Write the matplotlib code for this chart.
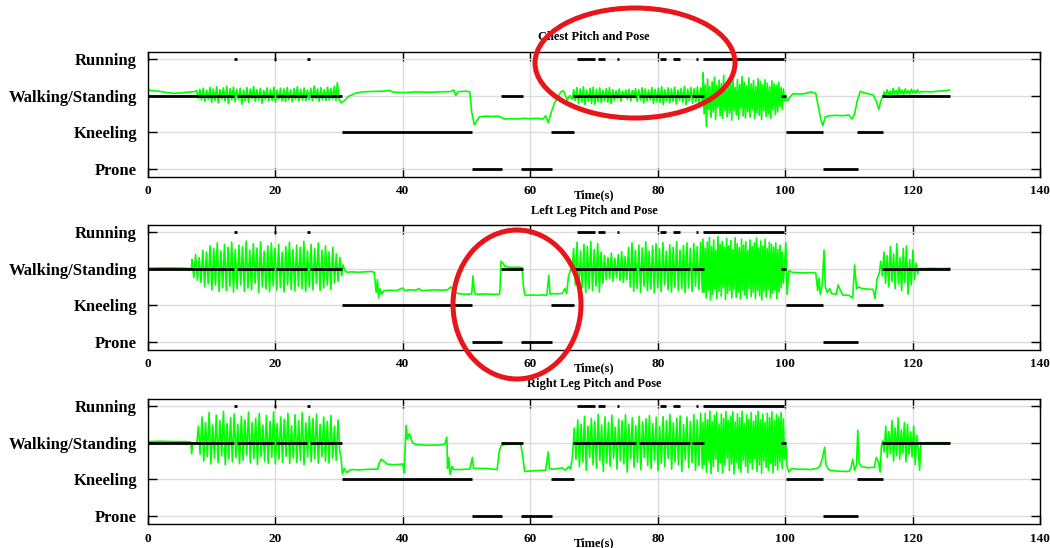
import numpy as np
import matplotlib
matplotlib.use('Agg')
import matplotlib.pyplot as plt
from matplotlib.patches import Ellipse

plt.rcParams['font.family'] = ['Liberation Serif', 'DejaVu Serif']
plt.rcParams['font.weight'] = 'bold'

pose_names = ['Prone', 'Kneeling', 'Walking/Standing', 'Running']
x_ticks = [0, 20, 40, 60, 80, 100, 120, 140]
titles = ['Chest Pitch and Pose', 'Left Leg Pitch and Pose', 'Right Leg Pitch and Pose']

# classified pose (same for all panels): start, end (s), level 0=Prone .. 3=Running
pose_start = [0, 13.9, 20.1, 25.4, 55.4, 66.7, 77.0, 85.4, 99.3, 115.2,
              13.5, 19.8, 25.0, 67.3, 70.7, 73.6, 80.3, 82.4, 86.0, 87.1,
              30.4, 63.2, 100.1, 111.2,
              50.9, 58.6, 105.9]
pose_end = [13.5, 19.8, 25.0, 30.4, 58.8, 76.6, 85.0, 87.2, 100.2, 125.8,
            13.9, 20.1, 25.4, 70.2, 71.7, 73.9, 81.3, 83.5, 86.3, 99.8,
            50.9, 66.8, 106.0, 115.3,
            55.5, 63.4, 111.4]
pose_level = [2, 2, 2, 2, 2, 2, 2, 2, 2, 2,
              3, 3, 3, 3, 3, 3, 3, 3, 3, 3,
              1, 1, 1, 1,
              0, 0, 0]

# ---- chest pitch (in pose-level units) ----
chest_t1 = [0, 1, 2, 3, 4, 5, 6, 7, 7.5]
chest_v1 = [2.15, 2.13, 2.11, 2.08, 2.06, 2.07, 2.09, 2.10, 2.12]
chest_a_pk = [2.14, 2.17, 2.20, 2.15, 2.22, 2.18, 2.24, 2.16, 2.21, 2.26, 2.19, 2.23, 2.17, 2.20,
              2.15, 2.22, 2.18, 2.25, 2.16, 2.20, 2.14, 2.21, 2.17, 2.23, 2.15, 2.20, 2.18, 2.22,
              2.16, 2.19, 2.24, 2.17, 2.21, 2.15, 2.20, 2.26, 2.18, 2.22, 2.16, 2.23, 2.19, 2.25]
chest_a_tr = [1.93, 1.88, 1.84, 1.90, 1.82, 1.87, 1.80, 1.91, 1.85, 1.78, 1.89, 1.83, 1.90, 1.76,
              1.86, 1.81, 1.92, 1.84, 1.88, 1.79, 1.90, 1.85, 1.87, 1.82, 1.91, 1.86, 1.84, 1.89,
              1.83, 1.90, 1.85, 1.88, 1.86, 1.90, 1.87, 1.92, 1.84, 1.89, 1.86, 1.88, 1.91, 1.87]
chest_t2 = [29.7, 30.0, 30.3, 30.8, 31.5, 32.5, 33.5, 35, 37, 38,
            38.3, 40, 42, 44, 46, 47.5, 48, 48.3, 48.6, 49,
            50, 50.5, 50.8, 51.2, 52, 53, 54, 55, 55.5, 56,
            57, 58, 59, 60, 61, 62, 62.4, 62.8, 63.2, 63.8,
            64.3, 64.8, 65.2, 65.8, 66.2, 66.6]
chest_v2 = [2.35, 1.90, 1.80, 1.86, 1.98, 2.06, 2.10, 2.11, 2.12, 2.14,
            2.10, 2.08, 2.10, 2.09, 2.10, 2.11, 2.15, 2.00, 2.10, 2.11,
            2.12, 2.10, 1.55, 1.20, 1.42, 1.44, 1.43, 1.44, 1.40, 1.36,
            1.37, 1.36, 1.38, 1.37, 1.38, 1.36, 1.45, 1.26, 1.50, 1.80,
            1.95, 2.10, 2.13, 1.88, 2.00, 1.90]
chest_b_pk = [2.16, 2.22, 2.18, 2.24, 2.15, 2.20, 2.23, 2.17, 2.21, 2.14, 2.19, 2.22, 2.16, 2.13,
              2.18, 2.12, 2.15, 2.17, 2.14, 2.19, 2.16, 2.21, 2.18, 2.15, 2.22, 2.17, 2.20, 2.24,
              2.16, 2.21, 2.18, 2.23, 2.15, 2.20, 2.25, 2.17, 2.22, 2.19, 2.24, 2.21]
chest_b_tr = [1.86, 1.78, 1.82, 1.75, 1.85, 1.79, 1.76, 1.84, 1.80, 1.87, 1.82, 1.78, 1.88, 1.92,
              1.85, 1.95, 1.90, 1.86, 1.93, 1.84, 1.88, 1.80, 1.85, 1.89, 1.78, 1.83, 1.81, 1.76,
              1.86, 1.80, 1.84, 1.77, 1.87, 1.82, 1.75, 1.85, 1.79, 1.83, 1.76, 1.81]
chest_c_pk = [2.62, 2.30, 2.45, 2.25, 2.38, 2.50, 2.28, 2.42, 2.33, 2.55, 2.26, 2.40, 2.35, 2.47,
              2.22, 2.44, 2.30, 2.52, 2.36, 2.27, 2.48, 2.32, 2.41, 2.25, 2.46, 2.38, 2.29, 2.43,
              2.34, 2.24, 2.40, 2.31, 2.28, 2.36, 2.22, 2.18]
chest_c_tr = [1.50, 1.16, 1.62, 1.40, 1.55, 1.35, 1.68, 1.45, 1.38, 1.60, 1.42, 1.52, 1.33, 1.58,
              1.47, 1.36, 1.65, 1.44, 1.39, 1.56, 1.41, 1.62, 1.37, 1.53, 1.46, 1.35, 1.59, 1.43,
              1.50, 1.38, 1.61, 1.48, 1.55, 1.70, 1.62, 1.85]
chest_t3 = [100.0, 100.3, 100.7, 101.2, 102, 103, 104, 104.8, 105.2, 105.6,
            105.9, 106.3, 107, 108, 109, 110, 110.5, 110.9, 111.3, 111.8,
            112.3, 113, 113.8, 114.3, 114.7, 115.0, 115.4]
chest_v3 = [2.00, 1.85, 1.95, 2.05, 2.04, 2.05, 2.10, 2.06, 1.70, 1.35,
            1.18, 1.42, 1.45, 1.46, 1.45, 1.47, 1.36, 1.50, 1.85, 2.12,
            2.08, 2.05, 2.02, 1.85, 1.62, 1.85, 2.00]
chest_d_pk = [2.10, 2.16, 2.12, 2.20, 2.14, 2.22, 2.15, 2.18, 2.13, 2.17, 2.14, 2.16]
chest_d_tr = [1.98, 2.02, 1.97, 2.04, 2.00, 2.05, 2.02, 2.06, 2.04, 2.07, 2.06, 2.08]
chest_t4 = [121.3, 122, 123, 124, 125, 125.8]
chest_v4 = [2.10, 2.11, 2.10, 2.12, 2.13, 2.15]

# ---- left leg pitch ----
left_t1 = [0, 2, 4, 6, 6.8]
left_v1 = [2.01, 2.02, 2.02, 2.01, 2.00]
left_a_pk = [2.25, 2.38, 2.30, 2.50, 2.45, 2.62, 2.55, 2.70, 2.48, 2.66, 2.58, 2.72, 2.52, 2.64,
             2.60, 2.75, 2.50, 2.68, 2.56, 2.73, 2.47, 2.62, 2.70, 2.55, 2.66, 2.45, 2.60, 2.72,
             2.52, 2.64, 2.58, 2.74, 2.48, 2.66, 2.55, 2.70, 2.50, 2.62, 2.45, 2.58, 2.40, 2.30]
left_a_tr = [1.75, 1.68, 1.62, 1.50, 1.58, 1.42, 1.55, 1.38, 1.48, 1.40, 1.52, 1.36, 1.45, 1.55,
             1.38, 1.47, 1.42, 1.60, 1.35, 1.50, 1.44, 1.37, 1.53, 1.41, 1.48, 1.36, 1.56, 1.43,
             1.39, 1.52, 1.45, 1.37, 1.50, 1.42, 1.58, 1.40, 1.47, 1.55, 1.43, 1.60, 1.65, 1.80]
left_t2 = [30.6, 30.9, 31.2, 32, 33, 34, 35, 35.5, 35.8, 36.0,
           36.2, 36.4, 36.7, 37.0, 38, 39, 40, 40.3, 41, 42,
           42.5, 43, 44, 45, 46, 47, 47.5, 48, 48.5, 49,
           50, 50.8, 51.0, 51.2, 51.4, 52, 53, 54, 55, 55.2,
           55.4, 55.7, 56, 57, 58, 58.7, 58.9, 59.1, 59.3, 60,
           61, 62, 62.6, 62.9, 63.1, 63.5, 64, 65, 65.4, 65.7,
           66.0, 66.3, 66.6]
left_v2 = [2.10, 1.95, 1.90, 1.91, 1.90, 1.91, 1.92, 1.90, 1.35, 1.70,
           1.20, 1.45, 1.30, 1.40, 1.41, 1.40, 1.47, 1.40, 1.42, 1.41,
           1.45, 1.40, 1.41, 1.42, 1.41, 1.42, 1.50, 1.40, 1.33, 1.31,
           1.30, 1.31, 1.80, 1.40, 1.30, 1.30, 1.31, 1.30, 1.30, 1.32,
           2.20, 2.15, 2.06, 2.03, 2.04, 2.03, 1.55, 1.30, 1.27, 1.28,
           1.27, 1.28, 1.27, 1.82, 1.30, 1.32, 1.31, 1.32, 1.45, 1.32,
           1.80, 1.95, 2.05]
left_b_pk = [2.55, 2.72, 2.48, 2.66, 2.60, 2.74, 2.52, 2.68, 2.45, 2.36, 2.30, 2.42, 2.28, 2.38,
             2.46, 2.33, 2.58, 2.70, 2.50, 2.64, 2.56, 2.73, 2.48, 2.62, 2.68, 2.54, 2.71, 2.47,
             2.65, 2.58, 2.74, 2.50, 2.63, 2.70, 2.55, 2.68, 2.60, 2.72]
left_b_tr = [1.55, 1.38, 1.48, 1.34, 1.45, 1.40, 1.52, 1.36, 1.60, 1.70, 1.72, 1.65, 1.75, 1.68,
             1.62, 1.70, 1.50, 1.38, 1.46, 1.35, 1.52, 1.40, 1.44, 1.33, 1.48, 1.37, 1.55, 1.42,
             1.36, 1.50, 1.40, 1.45, 1.34, 1.47, 1.38, 1.52, 1.42, 1.36]
left_c_pk = [2.80, 2.55, 2.72, 2.85, 2.60, 2.78, 2.50, 2.87, 2.66, 2.74, 2.58, 2.82, 2.62, 2.76,
             2.52, 2.84, 2.68, 2.57, 2.80, 2.64, 2.73, 2.50, 2.78, 2.60, 2.70, 2.83, 2.56, 2.75,
             2.62, 2.80, 2.54, 2.72, 2.66, 2.58, 2.70, 2.52, 2.64, 2.45]
left_c_tr = [1.35, 1.20, 1.42, 1.15, 1.30, 1.45, 1.18, 1.38, 1.25, 1.48, 1.16, 1.32, 1.40, 1.20,
             1.44, 1.22, 1.35, 1.17, 1.42, 1.28, 1.19, 1.46, 1.24, 1.36, 1.18, 1.40, 1.26, 1.15,
             1.38, 1.22, 1.44, 1.20, 1.33, 1.42, 1.18, 1.36, 1.48, 1.60]
left_t3 = [99.9, 100.1, 100.3, 100.6, 101, 102, 103, 104, 104.8, 105.1,
           105.3, 105.5, 105.8, 106.1, 106.3, 106.6, 107, 107.3, 108, 108.3,
           109, 110, 110.6, 110.9, 111.2, 111.5, 112, 113, 113.8, 114.1,
           114.4, 114.8]
left_v3 = [2.10, 2.70, 1.30, 1.95, 1.90, 1.89, 1.88, 1.89, 1.88, 1.40,
           1.75, 1.30, 1.55, 2.50, 1.50, 1.35, 1.45, 1.32, 1.30, 1.55,
           1.28, 1.27, 1.20, 2.10, 1.45, 1.50, 1.46, 1.44, 1.43, 1.18,
           1.70, 1.90]
left_d_pk = [2.20, 2.45, 2.35, 2.60, 2.40, 2.68, 2.30, 2.55, 2.62, 2.25, 2.50, 2.15]
left_d_tr = [1.80, 1.60, 1.50, 1.65, 1.45, 1.58, 1.40, 1.62, 1.30, 1.55, 1.70, 1.85]
left_t4 = [121.0, 122, 123, 124, 125, 125.8]
left_v4 = [2.00, 2.00, 2.01, 2.00, 2.00, 2.01]

# ---- right leg pitch ----
right_t1 = [0, 2, 4, 6, 6.7, 6.85, 7.0, 7.4, 7.7]
right_v1 = [2.03, 2.04, 2.03, 2.03, 2.02, 1.70, 2.00, 1.95, 2.05]
right_a_pk = [2.45, 2.70, 2.55, 2.82, 2.48, 2.75, 2.60, 2.85, 2.52, 2.68, 2.78, 2.50, 2.72, 2.62,
              2.83, 2.55, 2.66, 2.80, 2.48, 2.74, 2.58, 2.84, 2.52, 2.70, 2.64, 2.80, 2.46, 2.76,
              2.60, 2.82, 2.54, 2.72, 2.66, 2.78, 2.50, 2.70, 2.58, 2.74, 2.45, 2.62]
right_a_tr = [1.68, 1.50, 1.62, 1.42, 1.58, 1.46, 1.64, 1.40, 1.55, 1.48, 1.60, 1.43, 1.52, 1.66,
              1.45, 1.57, 1.41, 1.62, 1.50, 1.44, 1.60, 1.42, 1.55, 1.47, 1.63, 1.43, 1.58, 1.46,
              1.52, 1.40, 1.61, 1.48, 1.56, 1.44, 1.62, 1.50, 1.45, 1.58, 1.52, 1.75]
right_t2 = [30.3, 30.5, 30.8, 31.2, 31.6, 32, 33, 34, 35, 36,
            36.3, 36.6, 37, 37.5, 38.5, 39.5, 40.0, 40.2, 40.5, 40.7,
            41.0, 41.5, 42, 44, 46, 46.6, 46.9, 47.0, 47.2, 47.4,
            47.7, 48, 49, 50, 50.5, 50.9, 51.1, 51.5, 53, 54.8,
            55.1, 55.4, 56, 57, 58.5, 58.9, 59.1, 60, 61, 62.4,
            62.8, 63.0, 63.5, 64.5, 65, 65.5, 66, 66.3, 66.6]
right_v2 = [1.60, 1.15, 1.30, 1.18, 1.25, 1.27, 1.26, 1.27, 1.28, 1.28,
            1.45, 1.55, 1.50, 1.42, 1.40, 1.41, 1.42, 1.18, 2.47, 2.10,
            2.25, 2.00, 1.95, 1.93, 1.94, 1.97, 2.15, 1.30, 1.60, 1.14,
            1.35, 1.27, 1.27, 1.28, 1.28, 1.60, 1.30, 1.30, 1.30, 1.27,
            1.75, 1.92, 1.95, 1.96, 1.96, 1.50, 1.22, 1.23, 1.24, 1.25,
            1.75, 1.30, 1.28, 1.30, 1.32, 1.25, 1.35, 1.28, 1.60]
right_b_pk = [2.40, 2.62, 2.50, 2.72, 2.45, 2.66, 2.58, 2.77, 2.48, 2.70, 2.55, 2.75, 2.42, 2.64,
              2.60, 2.76, 2.50, 2.68, 2.46, 2.72, 2.57, 2.65, 2.74, 2.52, 2.69, 2.44, 2.71, 2.60,
              2.77, 2.54, 2.67, 2.73, 2.49, 2.70, 2.58, 2.76, 2.62, 2.80]
right_b_tr = [1.55, 1.35, 1.48, 1.25, 1.60, 1.40, 1.30, 1.52, 1.22, 1.45, 1.36, 1.58, 1.28, 1.50,
              1.42, 1.20, 1.55, 1.33, 1.47, 1.26, 1.60, 1.38, 1.30, 1.52, 1.24, 1.45, 1.35, 1.57,
              1.28, 1.48, 1.40, 1.22, 1.53, 1.32, 1.46, 1.25, 1.38, 1.30]
right_c_pk = [2.55, 2.80, 2.62, 2.86, 2.58, 2.75, 2.83, 2.50, 2.78, 2.66, 2.85, 2.60, 2.72, 2.84,
              2.56, 2.79, 2.68, 2.86, 2.52, 2.76, 2.64, 2.82, 2.58, 2.74, 2.85, 2.62, 2.78, 2.55,
              2.80, 2.68, 2.84, 2.60, 2.76, 2.70, 2.82, 2.65]
right_c_tr = [1.40, 1.20, 1.50, 1.16, 1.35, 1.55, 1.22, 1.45, 1.18, 1.38, 1.58, 1.25, 1.42, 1.15,
              1.48, 1.30, 1.20, 1.52, 1.36, 1.19, 1.46, 1.28, 1.56, 1.22, 1.40, 1.17, 1.50, 1.33,
              1.24, 1.44, 1.18, 1.38, 1.26, 1.48, 1.30, 1.55]
right_t3 = [100.1, 100.3, 100.6, 101, 102, 103, 104, 105, 105.4, 105.8,
            106.2, 106.4, 106.7, 107, 108, 109, 110, 110.3, 110.6, 110.9,
            111.2, 111.4, 111.6, 112, 113, 114, 114.3, 114.6, 114.9, 115.1]
right_v3 = [2.00, 1.35, 1.20, 1.30, 1.28, 1.28, 1.27, 1.30, 1.35, 1.55,
            1.88, 1.40, 1.30, 1.25, 1.23, 1.22, 1.22, 1.30, 1.55, 1.25,
            1.40, 2.34, 1.45, 1.35, 1.32, 1.33, 1.60, 1.50, 1.20, 1.90]
right_d_pk = [2.05, 2.45, 2.30, 2.60, 2.40, 2.68, 2.35, 2.55, 2.50, 2.30, 2.45, 2.20]
right_d_tr = [1.75, 1.60, 1.70, 1.50, 1.65, 1.55, 1.72, 1.48, 1.68, 1.62, 1.40, 1.80]
right_t4 = [121.1, 121.3, 121.6, 122, 123, 124, 125, 125.8]
right_v4 = [1.25, 2.00, 1.98, 2.00, 2.00, 2.00, 2.00, 2.00]

# pieces: (times, values) for quiet stretches, (t0, t1, peaks, troughs) for gait swings
chest_pieces = [(chest_t1, chest_v1), (7.6, 29.5, chest_a_pk, chest_a_tr), (chest_t2, chest_v2),
                (66.8, 87.0, chest_b_pk, chest_b_tr), (87.1, 99.9, chest_c_pk, chest_c_tr),
                (chest_t3, chest_v3), (115.5, 121.0, chest_d_pk, chest_d_tr), (chest_t4, chest_v4)]
left_pieces = [(left_t1, left_v1), (6.9, 30.4, left_a_pk, left_a_tr), (left_t2, left_v2),
               (66.8, 87.0, left_b_pk, left_b_tr), (87.1, 99.7, left_c_pk, left_c_tr),
               (left_t3, left_v3), (115.0, 120.8, left_d_pk, left_d_tr), (left_t4, left_v4)]
right_pieces = [(right_t1, right_v1), (7.9, 30.1, right_a_pk, right_a_tr), (right_t2, right_v2),
                (66.9, 87.0, right_b_pk, right_b_tr), (87.1, 99.9, right_c_pk, right_c_tr),
                (right_t3, right_v3), (115.3, 120.9, right_d_pk, right_d_tr), (right_t4, right_v4)]


def build_signal(pieces):
    ts, vs = [], []
    for p in pieces:
        if len(p) == 2:
            ts += list(p[0])
            vs += list(p[1])
        else:
            t0, t1, pk, tr = p
            vals = [v for pair in zip(pk, tr) for v in pair]
            ts += list(np.linspace(t0, t1, len(vals)))
            vs += vals
    return ts, vs


fig = plt.figure(figsize=(10.5, 5.48), dpi=100)
boxes = [[0.141, 0.677, 0.8495, 0.2276],
         [0.141, 0.3613, 0.8495, 0.2276],
         [0.141, 0.0432, 0.8495, 0.2281]]
title_off = [11, 10, 11]

for i, pieces in enumerate([chest_pieces, left_pieces, right_pieces]):
    ax = fig.add_axes(boxes[i])
    t, v = build_signal(pieces)
    ax.plot(t, v, color='#00ff00', lw=1.2, zorder=2)
    ax.hlines(pose_level, pose_start, pose_end, color='black', lw=2, zorder=3)

    ax.set_xlim(0, 140)
    ax.set_ylim(-0.22, 3.18)
    ax.set_xticks(x_ticks)
    ax.set_yticks([0, 1, 2, 3])
    ax.set_yticklabels(pose_names, fontsize=12, fontweight='bold')
    for lab in ax.get_xticklabels():
        lab.set_fontsize(9.5)
        lab.set_fontweight('bold')
    ax.tick_params(axis='both', direction='in', length=6.5, width=1, top=True, right=True)
    ax.tick_params(axis='y', pad=8)
    ax.tick_params(axis='x', pad=6)
    ax.grid(True, color='#dcdcdc', lw=1, zorder=0)
    ax.set_axisbelow(True)
    for s in ax.spines.values():
        s.set_linewidth(1)

    ax.annotate(titles[i], xy=(0.5, 1), xycoords='axes fraction', xytext=(0, title_off[i]),
                textcoords='offset points', ha='center', va='center', fontsize=9, fontweight='bold')
    ax.annotate('Time(s)', xy=(0.5, 0), xycoords='axes fraction', xytext=(0, -13.5),
                textcoords='offset points', ha='center', va='center', fontsize=9, fontweight='bold')

# red highlight rings
fig.add_artist(Ellipse((635 / 1050, 1 - 63 / 548), 200 / 1050, 110 / 548, transform=fig.transFigure,
                       fill=False, ec='#e8151b', lw=3.6, zorder=10))
fig.add_artist(Ellipse((517 / 1050, 1 - 304.5 / 548), 128 / 1050, 149 / 548, transform=fig.transFigure,
                       fill=False, ec='#e8151b', lw=3.6, zorder=10))

fig.savefig('out.png', dpi=100)
